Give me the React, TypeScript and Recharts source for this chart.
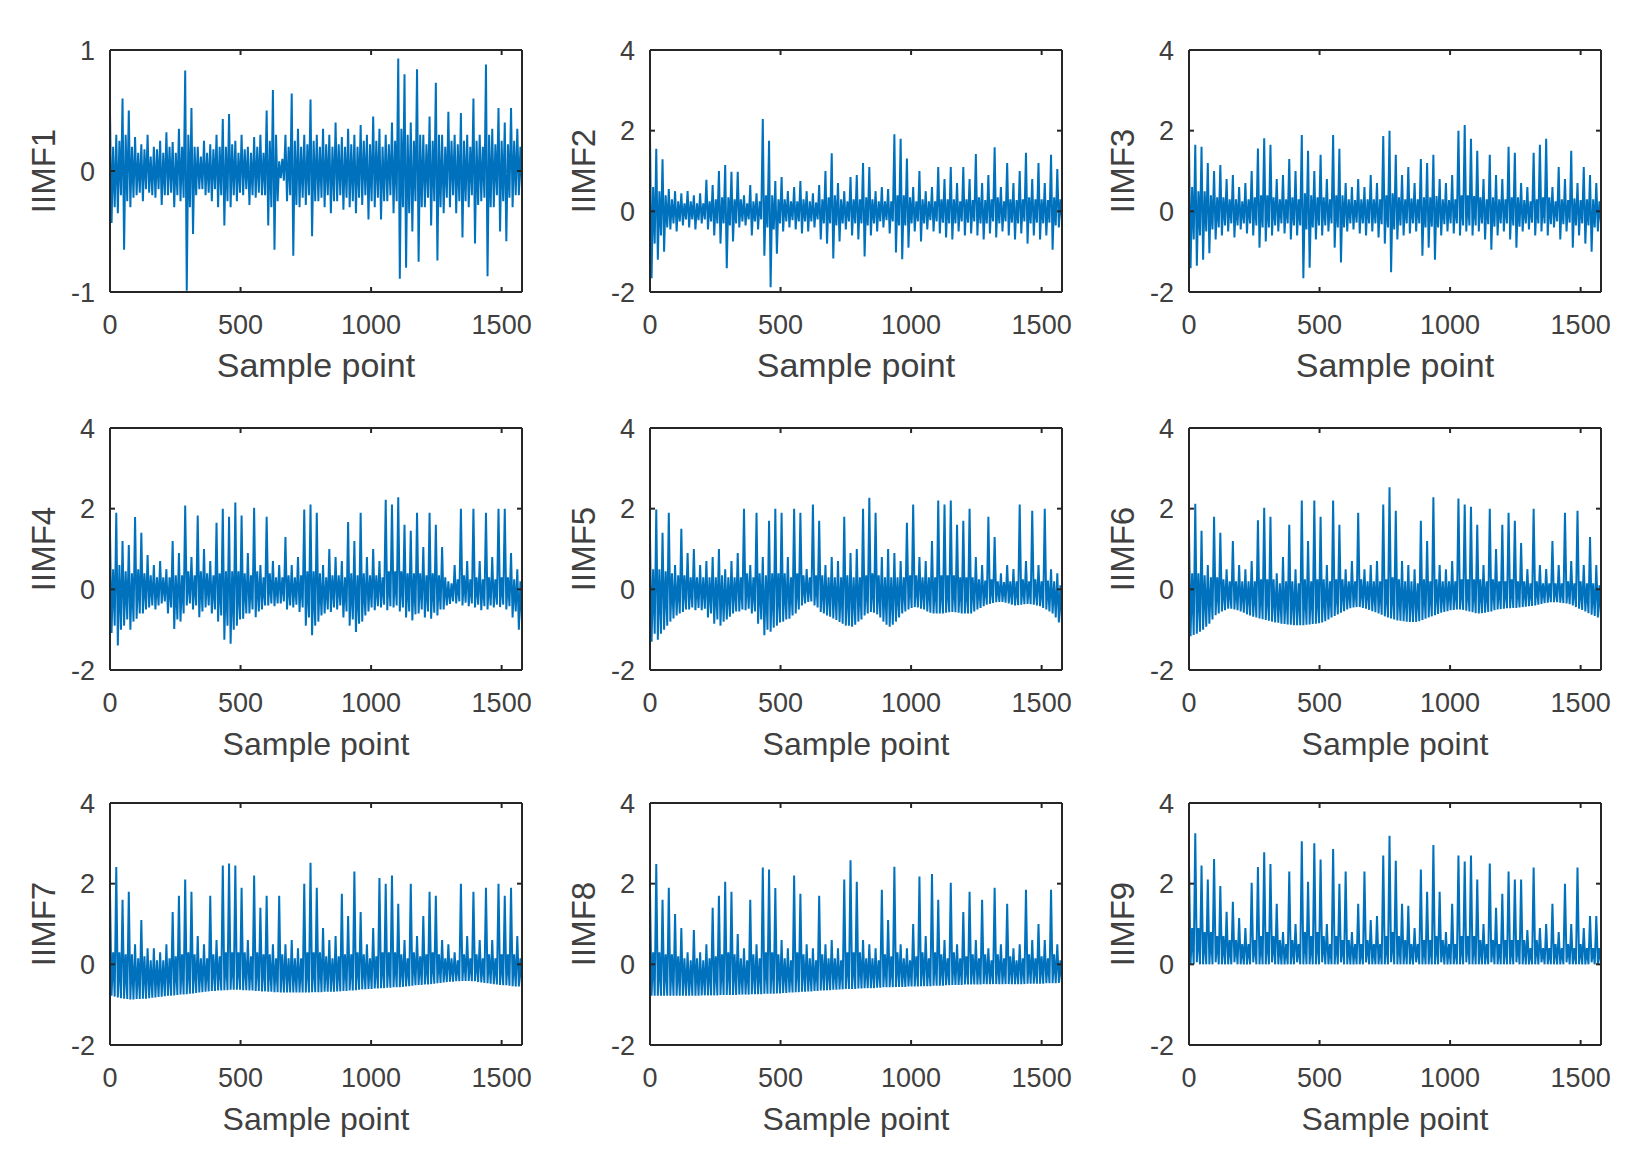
import { LineChart, Line, XAxis, YAxis } from "recharts";

// values every STEP samples:
// each group of four = crest, trough, band top, band bottom
const STEP = 6;
const X_MAX = 1578;
const X_TICKS = [0, 500, 1000, 1500];
const Y_TICKS = [-2, 0, 2, 4];
const Y_TICKS_1 = [-1, 0, 1];

const IIMF1 = [
  0.48, -0.43, 0.2, -0.3, 0.3, -0.35, 0.25, -0.2, 0.6, -0.65, 0.3, -0.25,
  0.5, -0.3, 0.2, -0.22, 0.28, -0.2, 0.15, -0.18, 0.22, -0.25, 0.18, -0.15,
  0.3, -0.18, 0.12, -0.2, 0.2, -0.22, 0.18, -0.15, 0.25, -0.28, 0.15, -0.2,
  0.32, -0.2, 0.2, -0.18, 0.24, -0.3, 0.15, -0.2, 0.35, -0.25, 0.2, -0.22,
  0.83, -0.99, 0.3, -0.3, 0.52, -0.52, 0.2, -0.2, 0.2, -0.15, 0.12, -0.15,
  0.25, -0.2, 0.15, -0.18, 0.22, -0.25, 0.18, -0.15, 0.3, -0.3, 0.2, -0.2,
  0.43, -0.45, 0.2, -0.25, 0.47, -0.3, 0.22, -0.2, 0.25, -0.25, 0.15, -0.18,
  0.3, -0.2, 0.18, -0.15, 0.2, -0.28, 0.15, -0.2, 0.28, -0.22, 0.2, -0.18,
  0.3, -0.2, 0.15, -0.2, 0.5, -0.45, 0.25, -0.3, 0.67, -0.65, 0.3, -0.25,
  0.08, -0.06, 0.1, -0.08, 0.3, -0.25, 0.2, -0.2, 0.64, -0.7, 0.25, -0.28,
  0.35, -0.3, 0.2, -0.22, 0.3, -0.28, 0.22, -0.2, 0.59, -0.54, 0.25, -0.25,
  0.3, -0.25, 0.2, -0.22, 0.35, -0.3, 0.22, -0.2, 0.3, -0.35, 0.2, -0.25,
  0.4, -0.25, 0.22, -0.2, 0.28, -0.32, 0.2, -0.22, 0.35, -0.3, 0.22, -0.25,
  0.3, -0.35, 0.2, -0.22, 0.38, -0.28, 0.25, -0.2, 0.3, -0.4, 0.22, -0.25,
  0.45, -0.3, 0.25, -0.22, 0.35, -0.4, 0.2, -0.25, 0.3, -0.25, 0.22, -0.2,
  0.4, -0.35, 0.25, -0.25, 0.93, -0.89, 0.35, -0.3, 0.8, -0.8, 0.3, -0.35,
  0.4, -0.5, 0.25, -0.25, 0.84, -0.75, 0.3, -0.3, 0.3, -0.3, 0.22, -0.22,
  0.45, -0.45, 0.25, -0.25, 0.73, -0.74, 0.3, -0.3, 0.3, -0.35, 0.2, -0.22,
  0.49, -0.3, 0.25, -0.2, 0.3, -0.35, 0.22, -0.25, 0.48, -0.55, 0.25, -0.25,
  0.3, -0.3, 0.2, -0.2, 0.6, -0.6, 0.25, -0.28, 0.3, -0.25, 0.2, -0.22,
  0.88, -0.87, 0.3, -0.3, 0.35, -0.3, 0.22, -0.2, 0.52, -0.5, 0.25, -0.25,
  0.4, -0.58, 0.22, -0.22, 0.52, -0.3, 0.25, -0.2, 0.35, -0.2, 0.2, -0.15,
];

const IIMF2 = [
  1.89, -1.66, 0.6, -0.8, 1.55, -1.2, 0.5, -0.6, 1.29, -1.0, 0.4, -0.4,
  0.55, -0.45, 0.3, -0.3, 0.5, -0.5, 0.25, -0.25, 0.45, -0.35, 0.2, -0.2,
  0.5, -0.4, 0.25, -0.2, 0.4, -0.45, 0.2, -0.22, 0.45, -0.3, 0.2, -0.2,
  0.78, -0.45, 0.25, -0.25, 0.65, -0.6, 0.3, -0.3, 1.0, -0.8, 0.35, -0.3,
  1.15, -1.41, 0.35, -0.35, 0.98, -0.75, 0.3, -0.3, 0.98, -0.4, 0.3, -0.25,
  0.4, -0.35, 0.2, -0.2, 0.65, -0.6, 0.25, -0.25, 0.45, -0.45, 0.25, -0.2,
  2.29, -1.1, 0.4, -0.4, 1.75, -1.88, 0.4, -0.45, 0.75, -1.05, 0.3, -0.3,
  0.85, -0.5, 0.3, -0.25, 0.5, -0.4, 0.25, -0.22, 0.6, -0.45, 0.25, -0.25,
  0.75, -0.55, 0.3, -0.25, 0.5, -0.5, 0.25, -0.25, 0.45, -0.4, 0.22, -0.2,
  0.65, -0.7, 0.3, -0.3, 1.0, -0.8, 0.35, -0.3, 1.44, -1.17, 0.4, -0.35,
  0.7, -0.75, 0.3, -0.3, 0.5, -0.45, 0.25, -0.25, 0.85, -0.6, 0.3, -0.3,
  0.9, -0.7, 0.3, -0.3, 1.2, -1.12, 0.35, -0.35, 1.1, -0.6, 0.3, -0.3,
  0.5, -0.5, 0.25, -0.25, 0.6, -0.4, 0.25, -0.22, 0.55, -0.55, 0.25, -0.25,
  1.91, -1.02, 0.4, -0.35, 1.8, -1.19, 0.4, -0.35, 1.31, -0.9, 0.35, -0.3,
  0.6, -0.5, 0.25, -0.25, 1.0, -0.75, 0.3, -0.3, 0.5, -0.45, 0.25, -0.22,
  0.6, -0.5, 0.25, -0.25, 1.1, -0.55, 0.3, -0.28, 0.8, -0.65, 0.3, -0.3,
  1.1, -0.7, 0.3, -0.3, 0.7, -0.5, 0.25, -0.25, 1.1, -0.6, 0.3, -0.28,
  0.8, -0.55, 0.28, -0.25, 1.42, -0.6, 0.35, -0.3, 0.7, -0.7, 0.28, -0.3,
  0.9, -0.55, 0.3, -0.25, 1.59, -0.65, 0.35, -0.3, 0.6, -0.5, 0.25, -0.25,
  1.2, -0.6, 0.3, -0.28, 0.7, -0.7, 0.28, -0.3, 1.0, -0.55, 0.3, -0.25,
  1.45, -0.8, 0.35, -0.3, 0.8, -0.6, 0.3, -0.28, 1.2, -0.7, 0.3, -0.3,
  0.7, -0.6, 0.28, -0.28, 1.4, -0.95, 0.35, -0.35, 1.05, -0.4, 0.3, -0.2,
];

const IIMF3 = [
  1.64, -1.41, 0.6, -0.7, 1.65, -1.35, 0.5, -0.6, 1.6, -1.2, 0.5, -0.5,
  1.2, -1.04, 0.4, -0.45, 1.0, -0.7, 0.35, -0.4, 1.15, -0.6, 0.35, -0.35,
  0.8, -0.5, 0.3, -0.3, 0.9, -0.65, 0.3, -0.35, 0.6, -0.45, 0.25, -0.3,
  0.7, -0.55, 0.3, -0.3, 1.0, -0.6, 0.35, -0.35, 1.56, -0.9, 0.4, -0.4,
  1.81, -0.75, 0.4, -0.4, 1.65, -0.6, 0.35, -0.35, 0.8, -0.5, 0.3, -0.3,
  0.9, -0.55, 0.3, -0.3, 1.3, -0.7, 0.35, -0.35, 1.0, -0.6, 0.3, -0.35,
  1.89, -1.66, 0.45, -0.45, 1.5, -1.4, 0.4, -0.4, 1.0, -0.7, 0.35, -0.35,
  1.4, -0.6, 0.35, -0.35, 0.8, -0.5, 0.3, -0.3, 1.89, -0.9, 0.4, -0.4,
  1.55, -1.27, 0.4, -0.4, 0.7, -0.5, 0.3, -0.3, 0.6, -0.45, 0.28, -0.28,
  0.8, -0.55, 0.3, -0.3, 0.6, -0.6, 0.3, -0.3, 0.9, -0.5, 0.3, -0.3,
  0.7, -0.65, 0.3, -0.32, 1.87, -0.8, 0.4, -0.4, 2.0, -1.51, 0.45, -0.45,
  1.4, -0.7, 0.35, -0.35, 0.9, -0.6, 0.3, -0.3, 1.1, -0.55, 0.32, -0.3,
  0.7, -0.5, 0.3, -0.3, 1.3, -1.1, 0.35, -0.4, 1.2, -0.9, 0.35, -0.38,
  1.4, -1.2, 0.38, -0.4, 0.8, -0.6, 0.3, -0.32, 0.7, -0.5, 0.28, -0.3,
  0.9, -0.55, 0.3, -0.3, 2.0, -0.6, 0.4, -0.35, 2.14, -0.5, 0.4, -0.35,
  1.8, -0.6, 0.38, -0.35, 1.5, -0.5, 0.35, -0.3, 0.8, -0.7, 0.3, -0.32,
  1.4, -0.95, 0.35, -0.38, 0.9, -0.6, 0.3, -0.3, 0.8, -0.5, 0.3, -0.3,
  1.6, -0.7, 0.35, -0.35, 1.45, -0.9, 0.35, -0.38, 0.7, -0.5, 0.28, -0.3,
  0.6, -0.45, 0.25, -0.28, 1.45, -0.6, 0.3, -0.3, 1.65, -0.5, 0.35, -0.3,
  1.8, -0.6, 0.35, -0.32, 0.6, -0.4, 0.25, -0.25, 1.1, -0.7, 0.3, -0.32,
  0.8, -0.5, 0.28, -0.28, 1.5, -0.9, 0.32, -0.35, 0.7, -0.6, 0.28, -0.3,
  1.1, -0.8, 0.3, -0.35, 0.9, -1.0, 0.3, -0.4, 0.7, -0.5, 0.25, -0.3,
];

const IIMF4 = [
  1.42, -1.08, 0.5, -0.9, 1.9, -1.39, 0.6, -1.0, 1.2, -0.9, 0.45, -0.75,
  1.1, -1.0, 0.4, -0.8, 1.79, -0.73, 0.5, -0.6, 1.4, -0.6, 0.4, -0.5,
  0.85, -0.45, 0.35, -0.4, 0.6, -0.5, 0.3, -0.4, 0.7, -0.35, 0.3, -0.3,
  0.5, -0.6, 0.3, -0.45, 1.2, -0.98, 0.35, -0.75, 0.9, -0.8, 0.35, -0.6,
  2.08, -0.4, 0.45, -0.35, 0.8, -0.5, 0.35, -0.4, 1.83, -0.69, 0.45, -0.55,
  1.0, -0.45, 0.4, -0.4, 0.7, -0.6, 0.35, -0.5, 1.65, -0.8, 0.4, -0.65,
  2.0, -1.25, 0.45, -0.9, 1.8, -1.35, 0.45, -1.0, 2.15, -0.9, 0.45, -0.75,
  1.83, -0.73, 0.4, -0.6, 0.9, -0.6, 0.35, -0.5, 2.02, -0.69, 0.45, -0.55,
  0.6, -0.5, 0.3, -0.4, 1.8, -0.4, 0.4, -0.35, 0.7, -0.42, 0.3, -0.35,
  0.6, -0.35, 0.3, -0.3, 1.3, -0.5, 0.35, -0.4, 0.6, -0.45, 0.3, -0.38,
  0.8, -0.56, 0.35, -0.45, 1.98, -0.9, 0.45, -0.7, 2.1, -1.14, 0.45, -0.9,
  1.9, -0.8, 0.4, -0.65, 0.6, -0.6, 0.3, -0.5, 1.0, -0.56, 0.35, -0.45,
  0.8, -0.5, 0.35, -0.4, 0.7, -0.7, 0.3, -0.55, 1.67, -0.9, 0.4, -0.75,
  1.2, -1.06, 0.35, -0.85, 1.9, -0.8, 0.4, -0.65, 0.8, -0.55, 0.35, -0.45,
  1.0, -0.52, 0.35, -0.42, 0.7, -0.45, 0.3, -0.38, 2.22, -0.52, 0.45, -0.42,
  2.1, -0.45, 0.45, -0.4, 2.28, -0.55, 0.45, -0.45, 1.6, -0.7, 0.4, -0.55,
  1.45, -0.77, 0.4, -0.62, 1.9, -0.6, 0.4, -0.5, 1.05, -0.7, 0.35, -0.55,
  1.9, -0.73, 0.4, -0.58, 1.6, -0.65, 0.35, -0.5, 1.05, -0.5, 0.3, -0.4,
  0.2, -0.36, 0.15, -0.3, 0.6, -0.35, 0.25, -0.3, 2.0, -0.4, 0.35, -0.33,
  0.7, -0.42, 0.25, -0.35, 2.0, -0.45, 0.3, -0.38, 0.7, -0.52, 0.25, -0.42,
  1.9, -0.5, 0.3, -0.4, 0.8, -0.45, 0.25, -0.38, 2.0, -0.44, 0.3, -0.38,
  2.0, -0.5, 0.3, -0.42, 0.9, -0.7, 0.25, -0.55, 0.5, -1.0, 0.2, -0.8,
];

const IIMF5 = [
  1.36, -1.3, 0.5, -1.1, 1.98, -1.25, 0.5, -1.1, 1.4, -1.0, 0.45, -0.9,
  1.9, -0.8, 0.4, -0.72, 0.6, -0.65, 0.35, -0.6, 1.5, -0.56, 0.35, -0.5,
  0.9, -0.5, 0.3, -0.45, 1.0, -0.52, 0.3, -0.46, 0.6, -0.52, 0.3, -0.48,
  0.7, -0.7, 0.3, -0.6, 0.8, -0.85, 0.3, -0.75, 1.0, -0.9, 0.35, -0.8,
  0.5, -0.75, 0.3, -0.68, 0.7, -0.6, 0.3, -0.55, 0.9, -0.55, 0.3, -0.5,
  2.0, -0.52, 0.4, -0.48, 0.6, -0.6, 0.3, -0.55, 1.9, -0.85, 0.4, -0.75,
  0.8, -1.14, 0.35, -1.0, 1.7, -1.05, 0.4, -0.95, 2.0, -0.9, 0.4, -0.82,
  1.9, -0.8, 0.4, -0.75, 0.8, -0.73, 0.3, -0.65, 2.0, -0.6, 0.4, -0.5,
  1.9, -0.4, 0.35, -0.35, 0.5, -0.31, 0.3, -0.3, 2.1, -0.4, 0.35, -0.45,
  1.7, -0.56, 0.35, -0.6, 0.6, -0.65, 0.3, -0.68, 0.8, -0.72, 0.3, -0.76,
  0.7, -0.81, 0.3, -0.85, 1.8, -0.9, 0.35, -0.9, 0.9, -0.93, 0.3, -0.88,
  1.0, -0.8, 0.3, -0.75, 2.0, -0.65, 0.35, -0.6, 2.27, -0.56, 0.4, -0.58,
  1.9, -0.62, 0.35, -0.7, 0.8, -0.8, 0.3, -0.88, 1.0, -0.93, 0.3, -0.88,
  0.9, -0.8, 0.3, -0.7, 0.7, -0.6, 0.3, -0.55, 1.65, -0.5, 0.35, -0.46,
  2.1, -0.44, 0.35, -0.45, 0.8, -0.48, 0.3, -0.5, 0.7, -0.55, 0.3, -0.58,
  1.2, -0.6, 0.3, -0.6, 2.2, -0.6, 0.35, -0.6, 2.1, -0.58, 0.35, -0.57,
  2.2, -0.56, 0.35, -0.57, 1.6, -0.58, 0.3, -0.6, 1.7, -0.6, 0.3, -0.6,
  2.0, -0.6, 0.3, -0.55, 0.8, -0.5, 0.25, -0.46, 0.6, -0.42, 0.22, -0.38,
  1.8, -0.36, 0.25, -0.34, 1.3, -0.32, 0.2, -0.31, 0.4, -0.31, 0.18, -0.33,
  0.6, -0.35, 0.2, -0.38, 0.5, -0.4, 0.2, -0.39, 2.1, -0.38, 0.25, -0.37,
  0.7, -0.36, 0.2, -0.37, 1.95, -0.38, 0.25, -0.4, 0.6, -0.42, 0.2, -0.46,
  2.0, -0.5, 0.22, -0.55, 0.5, -0.6, 0.2, -0.7, 0.4, -0.82, 0.1, -0.85,
];

const IIMF6 = [
  1.46, -1.16, 0.4, -1.13, 2.12, -1.1, 0.4, -1.05, 1.45, -1.0, 0.35, -0.93,
  0.6, -0.85, 0.3, -0.75, 1.8, -0.64, 0.3, -0.6, 1.4, -0.55, 0.25, -0.52,
  0.5, -0.48, 0.2, -0.48, 1.2, -0.5, 0.2, -0.52, 0.6, -0.55, 0.2, -0.58,
  0.5, -0.62, 0.2, -0.65, 0.7, -0.68, 0.2, -0.7, 1.71, -0.72, 0.25, -0.74,
  2.02, -0.76, 0.25, -0.78, 1.8, -0.8, 0.25, -0.82, 0.4, -0.83, 0.15, -0.85,
  0.8, -0.86, 0.2, -0.87, 1.6, -0.88, 0.2, -0.89, 0.5, -0.89, 0.15, -0.89,
  2.2, -0.89, 0.25, -0.88, 1.2, -0.87, 0.2, -0.86, 2.2, -0.85, 0.25, -0.84,
  1.8, -0.82, 0.25, -0.79, 0.6, -0.75, 0.2, -0.7, 2.2, -0.66, 0.25, -0.62,
  1.6, -0.58, 0.25, -0.54, 0.5, -0.5, 0.2, -0.47, 0.7, -0.45, 0.2, -0.44,
  1.9, -0.44, 0.25, -0.46, 0.5, -0.48, 0.2, -0.51, 0.6, -0.54, 0.2, -0.57,
  0.7, -0.6, 0.2, -0.63, 2.1, -0.67, 0.25, -0.7, 2.53, -0.72, 0.3, -0.75,
  1.95, -0.77, 0.25, -0.78, 0.7, -0.79, 0.2, -0.8, 0.6, -0.81, 0.2, -0.81,
  0.5, -0.81, 0.15, -0.79, 1.7, -0.76, 0.25, -0.73, 1.2, -0.7, 0.2, -0.67,
  2.28, -0.64, 0.25, -0.61, 0.6, -0.58, 0.2, -0.56, 0.5, -0.54, 0.2, -0.52,
  0.7, -0.51, 0.2, -0.5, 2.25, -0.5, 0.25, -0.51, 2.1, -0.53, 0.25, -0.55,
  2.05, -0.57, 0.25, -0.59, 1.6, -0.6, 0.25, -0.59, 0.6, -0.58, 0.2, -0.56,
  2.0, -0.55, 0.25, -0.52, 1.0, -0.5, 0.2, -0.49, 1.6, -0.48, 0.2, -0.47,
  1.9, -0.47, 0.25, -0.46, 1.7, -0.46, 0.2, -0.45, 1.15, -0.44, 0.2, -0.43,
  0.5, -0.42, 0.15, -0.41, 2.0, -0.4, 0.2, -0.38, 0.6, -0.36, 0.15, -0.34,
  0.5, -0.33, 0.15, -0.32, 1.2, -0.32, 0.15, -0.32, 0.6, -0.33, 0.15, -0.34,
  1.9, -0.35, 0.2, -0.37, 0.7, -0.4, 0.15, -0.44, 1.95, -0.48, 0.2, -0.51,
  0.6, -0.55, 0.15, -0.59, 1.3, -0.63, 0.15, -0.66, 0.6, -0.7, 0.1, -0.72,
];

const IIMF7 = [
  1.79, -0.78, 0.3, -0.8, 2.41, -0.82, 0.3, -0.84, 1.6, -0.85, 0.25, -0.86,
  1.8, -0.87, 0.25, -0.87, 0.5, -0.86, 0.15, -0.86, 1.1, -0.85, 0.2, -0.85,
  0.4, -0.84, 0.1, -0.83, 0.4, -0.82, 0.1, -0.81, 0.3, -0.8, 0.1, -0.79,
  0.5, -0.78, 0.15, -0.78, 1.3, -0.77, 0.2, -0.76, 1.7, -0.75, 0.25, -0.75,
  2.1, -0.74, 0.3, -0.73, 1.8, -0.72, 0.25, -0.71, 0.7, -0.7, 0.15, -0.69,
  0.5, -0.68, 0.15, -0.67, 1.7, -0.66, 0.25, -0.66, 0.6, -0.65, 0.2, -0.65,
  2.45, -0.64, 0.3, -0.64, 2.5, -0.63, 0.3, -0.63, 2.45, -0.63, 0.3, -0.63,
  1.9, -0.64, 0.3, -0.64, 0.6, -0.65, 0.2, -0.65, 2.2, -0.66, 0.3, -0.66,
  1.4, -0.67, 0.25, -0.67, 1.7, -0.68, 0.25, -0.68, 0.5, -0.69, 0.15, -0.69,
  1.7, -0.7, 0.25, -0.7, 0.5, -0.7, 0.15, -0.7, 0.6, -0.7, 0.15, -0.7,
  0.4, -0.7, 0.15, -0.7, 2.0, -0.7, 0.3, -0.7, 2.52, -0.69, 0.3, -0.69,
  1.9, -0.69, 0.3, -0.69, 0.9, -0.68, 0.2, -0.68, 0.6, -0.68, 0.15, -0.68,
  0.7, -0.67, 0.2, -0.67, 1.75, -0.66, 0.25, -0.66, 1.2, -0.65, 0.25, -0.65,
  2.3, -0.64, 0.3, -0.63, 1.3, -0.62, 0.25, -0.62, 0.5, -0.61, 0.15, -0.61,
  0.9, -0.6, 0.2, -0.6, 2.14, -0.59, 0.3, -0.59, 2.0, -0.58, 0.3, -0.58,
  2.2, -0.57, 0.3, -0.57, 1.5, -0.57, 0.25, -0.56, 0.6, -0.55, 0.15, -0.54,
  2.0, -0.53, 0.3, -0.52, 0.7, -0.51, 0.2, -0.51, 1.2, -0.5, 0.25, -0.5,
  1.8, -0.49, 0.3, -0.48, 1.7, -0.47, 0.25, -0.46, 0.6, -0.45, 0.15, -0.44,
  0.5, -0.43, 0.15, -0.43, 0.3, -0.42, 0.1, -0.42, 2.0, -0.41, 0.25, -0.41,
  0.7, -0.41, 0.15, -0.42, 1.8, -0.42, 0.25, -0.44, 0.6, -0.45, 0.15, -0.46,
  1.9, -0.47, 0.25, -0.48, 0.6, -0.49, 0.15, -0.5, 2.0, -0.51, 0.25, -0.52,
  1.7, -0.52, 0.25, -0.53, 1.9, -0.54, 0.25, -0.55, 0.7, -0.55, 0.15, -0.55,
];

const IIMF8 = [
  1.83, -0.78, 0.3, -0.78, 2.49, -0.78, 0.3, -0.78, 1.6, -0.78, 0.25, -0.78,
  1.9, -0.78, 0.25, -0.78, 1.25, -0.78, 0.2, -0.78, 0.9, -0.78, 0.15, -0.78,
  0.3, -0.78, 0.1, -0.78, 0.85, -0.78, 0.15, -0.78, 0.3, -0.77, 0.1, -0.77,
  0.5, -0.77, 0.15, -0.77, 1.4, -0.77, 0.2, -0.77, 1.7, -0.76, 0.25, -0.76,
  2.05, -0.76, 0.3, -0.76, 1.8, -0.76, 0.25, -0.76, 0.75, -0.75, 0.15, -0.75,
  0.4, -0.75, 0.1, -0.75, 1.6, -0.74, 0.25, -0.74, 0.5, -0.74, 0.15, -0.74,
  2.4, -0.73, 0.3, -0.73, 2.35, -0.73, 0.3, -0.73, 1.89, -0.72, 0.25, -0.72,
  0.6, -0.71, 0.15, -0.71, 0.4, -0.7, 0.1, -0.7, 2.2, -0.69, 0.3, -0.69,
  1.75, -0.68, 0.25, -0.68, 0.5, -0.67, 0.15, -0.67, 0.4, -0.66, 0.1, -0.66,
  1.7, -0.65, 0.25, -0.65, 0.5, -0.64, 0.15, -0.64, 0.6, -0.63, 0.15, -0.63,
  0.4, -0.62, 0.1, -0.62, 2.1, -0.61, 0.3, -0.61, 2.58, -0.61, 0.3, -0.61,
  2.05, -0.6, 0.3, -0.6, 0.6, -0.59, 0.15, -0.59, 0.5, -0.59, 0.15, -0.59,
  0.4, -0.58, 0.1, -0.58, 1.85, -0.57, 0.25, -0.57, 1.1, -0.57, 0.2, -0.57,
  2.42, -0.56, 0.3, -0.56, 0.5, -0.56, 0.15, -0.56, 0.4, -0.55, 0.1, -0.55,
  1.0, -0.55, 0.2, -0.55, 2.18, -0.54, 0.3, -0.54, 0.7, -0.54, 0.15, -0.54,
  2.24, -0.53, 0.3, -0.53, 1.6, -0.53, 0.25, -0.53, 0.6, -0.52, 0.15, -0.52,
  2.02, -0.51, 0.3, -0.51, 0.5, -0.51, 0.15, -0.51, 1.3, -0.5, 0.2, -0.5,
  1.8, -0.5, 0.25, -0.5, 0.6, -0.5, 0.15, -0.5, 1.6, -0.49, 0.25, -0.49,
  0.4, -0.49, 0.1, -0.49, 1.9, -0.49, 0.25, -0.49, 0.5, -0.49, 0.15, -0.49,
  1.5, -0.49, 0.2, -0.49, 0.4, -0.49, 0.1, -0.49, 0.5, -0.49, 0.15, -0.49,
  1.85, -0.48, 0.25, -0.48, 0.6, -0.48, 0.15, -0.48, 1.0, -0.48, 0.2, -0.48,
  0.6, -0.47, 0.15, -0.47, 1.85, -0.47, 0.25, -0.47, 0.5, -0.46, 0.1, -0.46,
];

const IIMF9 = [
  2.5, 0, 0.9, 0, 3.25, 0.05, 0.9, 0, 2.45, 0, 0.8, 0,
  2.1, 0, 0.8, 0, 2.61, 0.05, 0.7, 0, 1.94, 0, 0.7, 0,
  1.3, 0, 0.6, 0, 1.55, 0.05, 0.6, 0, 1.15, 0, 0.5, 0,
  0.9, 0, 0.5, 0, 2.02, 0.05, 0.6, 0, 2.41, 0, 0.7, 0,
  2.78, 0, 0.8, 0, 2.49, 0.05, 0.7, 0, 1.5, 0, 0.6, 0,
  0.8, 0, 0.5, 0, 2.3, 0, 0.6, 0, 1.0, 0.05, 0.5, 0,
  3.05, 0, 0.8, 0, 2.05, 0, 0.7, 0, 3.0, 0, 0.8, 0,
  2.6, 0.05, 0.7, 0, 1.0, 0, 0.5, 0, 2.86, 0, 0.7, 0,
  2.0, 0.05, 0.6, 0, 2.3, 0, 0.6, 0, 0.8, 0, 0.5, 0,
  1.5, 0, 0.5, 0, 2.3, 0.05, 0.6, 0, 1.1, 0, 0.5, 0,
  1.2, 0, 0.5, 0, 2.7, 0, 0.7, 0, 3.19, 0.05, 0.8, 0,
  2.57, 0, 0.7, 0, 1.5, 0, 0.6, 0, 1.45, 0, 0.5, 0,
  0.9, 0.05, 0.5, 0, 2.35, 0, 0.6, 0, 1.8, 0, 0.6, 0,
  2.96, 0, 0.7, 0, 1.8, 0.05, 0.6, 0, 0.8, 0, 0.5, 0,
  1.5, 0, 0.5, 0, 2.7, 0, 0.7, 0, 2.55, 0.05, 0.7, 0,
  2.7, 0, 0.7, 0, 2.1, 0, 0.6, 0, 1.0, 0, 0.5, 0,
  2.5, 0.05, 0.6, 0, 1.4, 0, 0.5, 0, 1.75, 0, 0.6, 0,
  2.3, 0, 0.6, 0, 2.1, 0.05, 0.6, 0, 2.1, 0, 0.6, 0,
  0.85, 0, 0.4, 0, 2.4, 0, 0.6, 0, 0.9, 0.05, 0.4, 0,
  1.0, 0, 0.4, 0, 1.5, 0, 0.5, 0, 0.8, 0, 0.4, 0,
  2.0, 0.05, 0.5, 0, 1.0, 0, 0.4, 0, 2.4, 0, 0.5, 0,
  0.9, 0, 0.4, 0, 1.2, 0.05, 0.4, 0, 1.2, 0, 0.4, 0,
];

const SERIES = [IIMF1, IIMF2, IIMF3, IIMF4, IIMF5, IIMF6, IIMF7, IIMF8, IIMF9];
const NAMES = ["IIMF1", "IIMF2", "IIMF3", "IIMF4", "IIMF5", "IIMF6", "IIMF7", "IIMF8", "IIMF9"];

// layout of the 3x3 grid (plot-area corners in page pixels)
const COL_LEFT = [110, 650, 1189];
const ROW_TOP = [50, 428, 803];
const PLOT_W = 412;
const PLOT_H = 242;
const M_LEFT = 100;
const M_TOP = 20;
const M_RIGHT = 20;
const M_BOTTOM = 100;

const FONT = "'Liberation Sans', Arial, Helvetica, sans-serif";
const LINE_BLUE = "#0072BD";
const AXIS = "#262626";
const TEXT = "#404040";
const tickStyle = { fontSize: 27, fill: TEXT, fontFamily: FONT };

function XTitle(props: any) {
  const vb = props.viewBox;
  if (!vb) return null;
  return (
    <text x={vb.x + vb.width / 2} y={vb.y + 85} textAnchor="middle"
      style={{ fontSize: props.size, fill: TEXT, fontFamily: FONT }}>
      Sample point
    </text>
  );
}

function YTitle(props: any) {
  const vb = props.viewBox;
  if (!vb) return null;
  const cx = vb.x + vb.width - 67;
  const cy = vb.y + vb.height / 2;
  return (
    <text x={cx} y={cy} transform={`rotate(-90 ${cx} ${cy})`} textAnchor="middle"
      dominantBaseline="central" style={{ fontSize: 33, fill: TEXT, fontFamily: FONT }}>
      {props.text}
    </text>
  );
}

// box axes (top / right) carry inward ticks but no labels
function NoTick() {
  return <g />;
}

function Panel({ idx }: { idx: number }) {
  const values = SERIES[idx];
  const rows = values.map((v, i) => ({ x: i * STEP, v }));
  const first = idx === 0;
  const row = Math.floor(idx / 3);
  const yTicks = first ? Y_TICKS_1 : Y_TICKS;
  const yDomain = first ? [-1, 1] : [-2, 4];
  const left = COL_LEFT[idx % 3] - M_LEFT;
  const top = ROW_TOP[row] - M_TOP;
  const axisLine = { stroke: AXIS, strokeWidth: 2 };
  const tickLine = { stroke: AXIS, strokeWidth: 2 };

  return (
    <div style={{ position: "absolute", left, top }}>
      <LineChart
        width={M_LEFT + PLOT_W + M_RIGHT}
        height={M_TOP + PLOT_H + M_BOTTOM}
        data={rows}
        margin={{ top: M_TOP - 1, right: M_RIGHT - 1, bottom: 0, left: 0 }}
      >
        <XAxis dataKey="x" type="number" domain={[0, X_MAX]} ticks={X_TICKS}
          height={M_BOTTOM} tickSize={-5} tickMargin={28} axisLine={axisLine}
          tickLine={tickLine} tick={tickStyle} allowDataOverflow
          label={<XTitle size={row === 0 ? 34 : 32} />} />
        <XAxis xAxisId="top" orientation="top" dataKey="x" type="number"
          domain={[0, X_MAX]} ticks={X_TICKS} height={1} tickSize={-5}
          axisLine={axisLine} tickLine={tickLine} tick={<NoTick />} allowDataOverflow />
        <YAxis type="number" domain={yDomain} ticks={yTicks} width={M_LEFT}
          tickSize={-5} tickMargin={20} axisLine={axisLine} tickLine={tickLine}
          tick={tickStyle} allowDataOverflow label={<YTitle text={NAMES[idx]} />} />
        <YAxis yAxisId="right" orientation="right" type="number" domain={yDomain}
          ticks={yTicks} width={1} tickSize={-5} axisLine={axisLine}
          tickLine={tickLine} tick={<NoTick />} allowDataOverflow />
        <Line type="linear" dataKey="v" stroke={LINE_BLUE} strokeWidth={2}
          dot={false} activeDot={false} isAnimationActive={false} />
      </LineChart>
    </div>
  );
}

export default function App() {
  return (
    <div style={{ position: "absolute", left: 0, top: 0, width: 1630, height: 1167, background: "#fff" }}>
      {SERIES.map((_, i) => (
        <Panel key={NAMES[i]} idx={i} />
      ))}
    </div>
  );
}
